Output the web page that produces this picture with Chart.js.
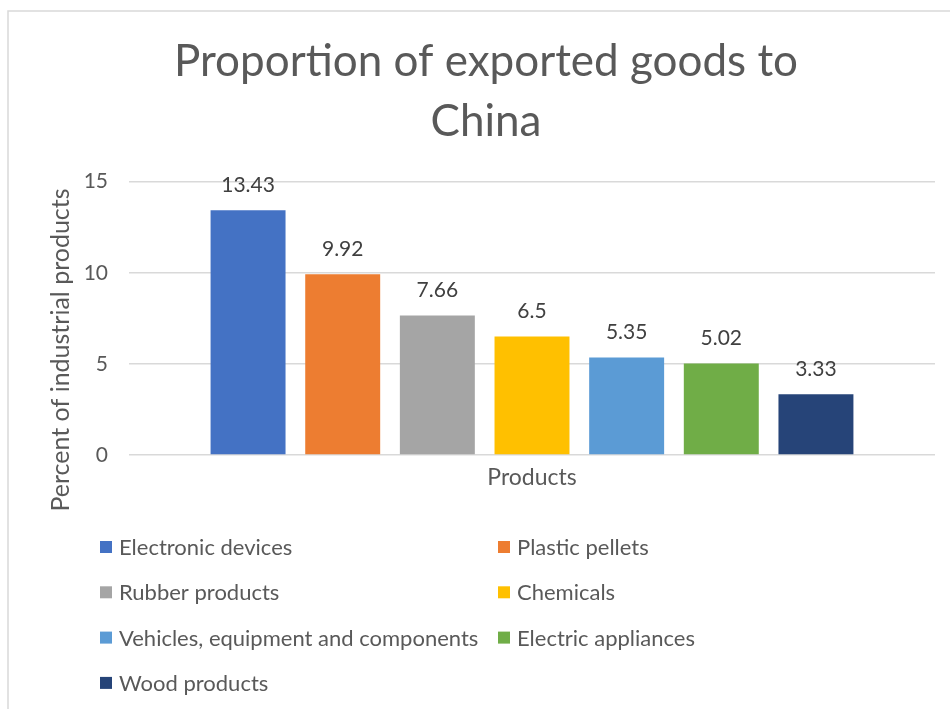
<!DOCTYPE html>
<html lang="en">
<head>
    <meta charset="UTF-8">
    <title>Proportion of exported goods to China</title>
    <script src="https://cdn.jsdelivr.net/npm/chart.js"></script>
    <style>
        html, body {
            margin: 0;
            padding: 0;
            background: #ffffff;
        }
        .wrap {
            position: relative;
            width: 950px;
            height: 709px;
        }
    </style>
</head>
<body>
    <div class="wrap">
        <canvas id="exportChart" width="950" height="709"></canvas>
    </div>

    <script>
        const categories = ["Products"];
        const products = [
            "Electronic devices", "Plastic pellets", "Rubber products", "Chemicals",
            "Vehicles, equipment and components", "Electric appliances", "Wood products"
        ];
        const shares = [13.43, 9.92, 7.66, 6.5, 5.35, 5.02, 3.33];
        const colors = ["#4472C4", "#ED7D31", "#A5A5A5", "#FFC000", "#5B9BD5", "#70AD47", "#264478"];
        const yTicks = [0, 5, 10, 15];
        const yTitle = "Percent of industrial products";

        const FONT = "Lato, 'Open Sans', sans-serif";
        const TEXT = "#595959";

        // light grey frame like the Excel chart area
        const framePlugin = {
            id: 'frame',
            beforeDraw(chart) {
                const ctx = chart.ctx;
                ctx.save();
                ctx.fillStyle = '#ffffff';
                ctx.fillRect(0, 0, chart.width, chart.height);
                ctx.strokeStyle = '#d9d9d9';
                ctx.lineWidth = 1.5;
                ctx.strokeRect(8, 11, chart.width + 20, chart.height + 20);
                ctx.restore();
            }
        };

        // value labels above each bar, plus the rotated y axis title
        const valueLabels = {
            id: 'valueLabels',
            afterDatasetsDraw(chart) {
                const ctx = chart.ctx;
                ctx.save();
                ctx.font = "21px " + FONT;
                ctx.fillStyle = '#404040';
                ctx.textAlign = 'center';
                ctx.textBaseline = 'middle';
                chart.data.datasets.forEach((ds, i) => {
                    chart.getDatasetMeta(i).data.forEach((bar, j) => {
                        ctx.fillText(String(ds.data[j]), bar.x, bar.y - 25);
                    });
                });

                // Excel puts this title a bit lower than the plot centre
                ctx.translate(61, 350);
                ctx.rotate(-Math.PI / 2);
                ctx.font = "25px " + FONT;
                ctx.fillStyle = TEXT;
                ctx.fillText(yTitle, 0, 0);
                ctx.restore();
            }
        };

        // two-column legend under the plot
        const gridLegend = {
            id: 'gridLegend',
            afterDraw(chart) {
                const ctx = chart.ctx;
                ctx.save();
                ctx.font = "22px " + FONT;
                ctx.textBaseline = 'middle';
                ctx.textAlign = 'left';
                const colX = [100, 498];
                const rowY = 547, rowGap = 45.3;
                chart.data.datasets.forEach((ds, i) => {
                    const x = colX[i % 2];
                    const y = rowY + Math.floor(i / 2) * rowGap;
                    ctx.fillStyle = ds.backgroundColor;
                    ctx.fillRect(x, y - 6, 12, 12);
                    ctx.fillStyle = TEXT;
                    ctx.fillText(ds.label, x + 19, y + 1);
                });
                ctx.restore();
            }
        };

        const datasets = products.map((name, i) => ({
            label: name,
            data: [shares[i]],
            backgroundColor: colors[i],
            categoryPercentage: 0.822,
            barPercentage: 0.792
        }));

        new Chart(document.getElementById('exportChart'), {
            type: 'bar',
            data: { labels: categories, datasets: datasets },
            plugins: [framePlugin, valueLabels, gridLegend],
            options: {
                responsive: false,
                animation: false,
                layout: { padding: { left: 37, right: 15, top: 0, bottom: 0 } },
                plugins: {
                    legend: { display: false },
                    tooltip: { enabled: false },
                    title: {
                        display: true,
                        text: ["Proportion of exported goods to", "China"],
                        color: TEXT,
                        font: { family: FONT, size: 44, weight: 'normal', lineHeight: 1.36 },
                        padding: { top: 32, bottom: 30 }
                    }
                },
                scales: {
                    x: {
                        grid: { display: false },
                        border: { display: false },
                        ticks: { display: false },
                        title: {
                            display: true,
                            text: 'Products',
                            color: TEXT,
                            font: { family: FONT, size: 23 },
                            padding: { top: 4, bottom: 218 }
                        },
                        afterFit(scale) { scale.height = 254; }
                    },
                    y: {
                        min: 0,
                        max: 15,
                        afterBuildTicks(scale) {
                            scale.ticks = yTicks.map(v => ({ value: v }));
                        },
                        grid: { color: '#d9d9d9', lineWidth: 1.5, drawTicks: false },
                        border: { display: false },
                        ticks: {
                            color: TEXT,
                            padding: 21,
                            font: { family: FONT, size: 21 }
                        },
                        afterFit(scale) { scale.width = 92; }
                    }
                }
            }
        });
    </script>
</body>
</html>
